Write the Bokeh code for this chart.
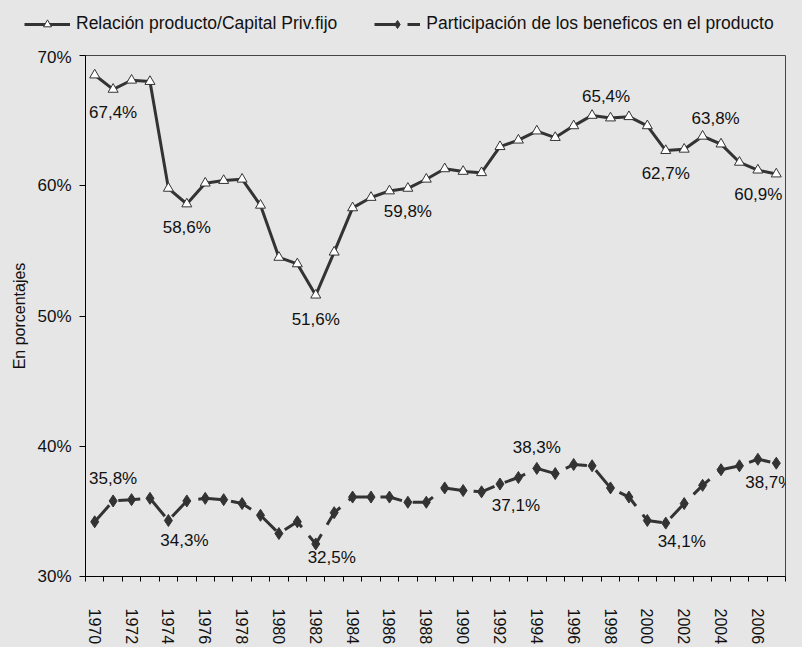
from bokeh.plotting import figure
from bokeh.models import (ColumnDataSource, Range1d, FixedTicker, PrintfTickFormatter,
                          Legend, LegendItem)
from bokeh.core.properties import value
from bokeh.embed import file_html
from bokeh.resources import INLINE

years = list(range(1970, 2008))
relacion = [68.5, 67.4, 68.1, 68.0, 59.8, 58.6, 60.2, 60.4, 60.5, 58.5,
            54.5, 54.0, 51.6, 54.9, 58.3, 59.1, 59.6, 59.8, 60.5, 61.3,
            61.1, 61.0, 63.0, 63.5, 64.2, 63.7, 64.6, 65.4, 65.2, 65.3,
            64.6, 62.7, 62.8, 63.8, 63.2, 61.8, 61.2, 60.9]
beneficios = [34.2, 35.8, 35.9, 36.0, 34.3, 35.8, 36.0, 35.9, 35.6, 34.7,
              33.3, 34.2, 32.5, 34.9, 36.1, 36.1, 36.1, 35.7, 35.7, 36.8,
              36.6, 36.5, 37.1, 37.6, 38.3, 37.9, 38.6, 38.5, 36.8, 36.1,
              34.3, 34.1, 35.6, 37.0, 38.2, 38.5, 39.0, 38.7]
y_ticks = [30, 40, 50, 60, 70]
tick_years = years[::2]
series_names = ["Relación producto/Capital Priv.fijo",
                "Participación de los beneficos en el producto"]

# labelled points (year) and label placement offsets in px (dx, dy; dy>0 = down)
rel_labels = [(1971, 0, 23), (1975, 0, 24), (1982, 0, 24), (1987, 0, 23),
              (1997, 14, -19), (2001, 0, 23), (2003, 13, -18), (2007, -18, 20)]
ben_labels = [(1971, 0, -22), (1974, 16, 20), (1982, 16, 14), (1992, 16, 21),
              (1994, 0, -21), (2001, 16, 18), (2007, -7, 19)]

FONT = "Liberation Sans"
BG = "#e6e6e6"
DARK = "#333333"
W, H_LEG, H_MAIN = 802, 47, 600

line1 = dict(line_color=DARK, line_width=3)
mark1 = dict(marker="triangle", size=10, fill_color="white", line_color=DARK, line_width=1)
line2 = dict(line_color=DARK, line_width=3, line_dash="22 11")
mark2 = dict(marker="diamond", size=12, fill_color=DARK, line_color=DARK, line_width=1)

idx = list(range(len(years)))
src = ColumnDataSource(dict(x=idx, rel=relacion, ben=beneficios))

p = figure(width=W, height=H_MAIN, output_backend="svg", toolbar_location=None,
           x_range=Range1d(-0.5, len(years) - 0.5), y_range=Range1d(30, 70),
           min_border_left=85, min_border_right=17, min_border_top=8, min_border_bottom=65)
p.background_fill_color = BG
p.border_fill_color = BG
p.outline_line_color = "#444444"
p.outline_line_width = 1
p.xgrid.visible = False
p.ygrid.visible = False

p.line("x", "rel", source=src, **line1)
p.scatter("x", "rel", source=src, **mark1)
p.line("x", "ben", source=src, **line2)
p.scatter("x", "ben", source=src, **mark2)

def label_source(vals, specs):
    xs, ys, txt, dxs, dys = [], [], [], [], []
    for yr, dx, dy in specs:
        i = years.index(yr)
        xs.append(i); ys.append(vals[i])
        txt.append(f"{vals[i]:.1f}%".replace(".", ","))
        dxs.append(dx); dys.append(dy)
    return ColumnDataSource(dict(x=xs, y=ys, t=txt, dx=dxs, dy=dys))

for vals, specs in ((relacion, rel_labels), (beneficios, ben_labels)):
    p.text("x", "y", text="t", source=label_source(vals, specs), x_offset="dx", y_offset="dy",
           text_align="center", text_baseline="middle", text_font=value(FONT),
           text_font_size="17px", text_color="#111111")

# y axis
ya = p.yaxis[0]
ya.ticker = FixedTicker(ticks=y_ticks)
ya.formatter = PrintfTickFormatter(format="%d%%")
ya.axis_label = "En porcentajes"
ya.axis_label_text_font = FONT
ya.axis_label_text_font_style = "normal"
ya.axis_label_text_font_size = "16px"
ya.axis_label_text_color = "#111111"
ya.axis_label_standoff = 6
ya.major_label_text_font = FONT
ya.major_label_text_font_size = "17px"
ya.major_label_text_color = "#111111"
ya.major_label_standoff = 8
ya.major_tick_out = 6
ya.major_tick_in = 0
ya.minor_tick_line_color = None
ya.axis_line_color = "black"
ya.major_tick_line_color = "black"

# x axis
xa = p.xaxis[0]
tick_idx = [years.index(y) for y in tick_years]
xa.ticker = FixedTicker(ticks=tick_idx, minor_ticks=[i - 0.5 for i in range(len(years) + 1)])
xa.major_label_overrides = {i: str(years[i]) for i in tick_idx}
xa.major_label_orientation = "vertical"
xa.major_label_text_font = FONT
xa.major_label_text_font_size = "16px"
xa.major_label_text_color = "#111111"
xa.major_label_standoff = 27
xa.major_tick_line_color = None
xa.major_tick_out = 0
xa.major_tick_in = 0
xa.minor_tick_out = 5
xa.minor_tick_in = 0
xa.minor_tick_line_color = "black"
xa.axis_line_color = "black"

# legend strip on top (separate root with its own full-width frame, so nothing is clipped);
# its renderers use the same data but the view range hides them, only legend samples show
lg = figure(width=W, height=H_LEG, output_backend="svg", toolbar_location=None,
            x_axis_type=None, y_axis_type=None,
            x_range=Range1d(-0.5, len(years) - 0.5), y_range=Range1d(100, 101),
            min_border_left=0, min_border_right=0, min_border_top=0, min_border_bottom=0)
lg.background_fill_color = BG
lg.border_fill_color = BG
lg.outline_line_color = None
lg.xgrid.visible = False
lg.ygrid.visible = False
l1 = lg.line("x", "rel", source=src, **line1)
m1 = lg.scatter("x", "rel", source=src, **mark1)
l2 = lg.line("x", "ben", source=src, **line2)
m2 = lg.scatter("x", "ben", source=src, **mark2)

legend = Legend(items=[LegendItem(label=series_names[0], renderers=[l1, m1]),
                       LegendItem(label=series_names[1], renderers=[l2, m2])],
                orientation="horizontal", location=(24, 13),
                glyph_width=46, glyph_height=20, label_standoff=6, spacing=37,
                padding=3, margin=0, border_line_color=None,
                background_fill_alpha=0, label_text_font=FONT,
                label_text_font_size="17.5px", label_text_color="#111111",
                label_height=20)
lg.add_layout(legend, "center")

html = file_html([lg, p], INLINE)
style = "<style>html, body { background-color: %s !important; }</style>" % BG
html = html.replace("</head>", style + "</head>", 1)
open("out.html", "w").write(html)
